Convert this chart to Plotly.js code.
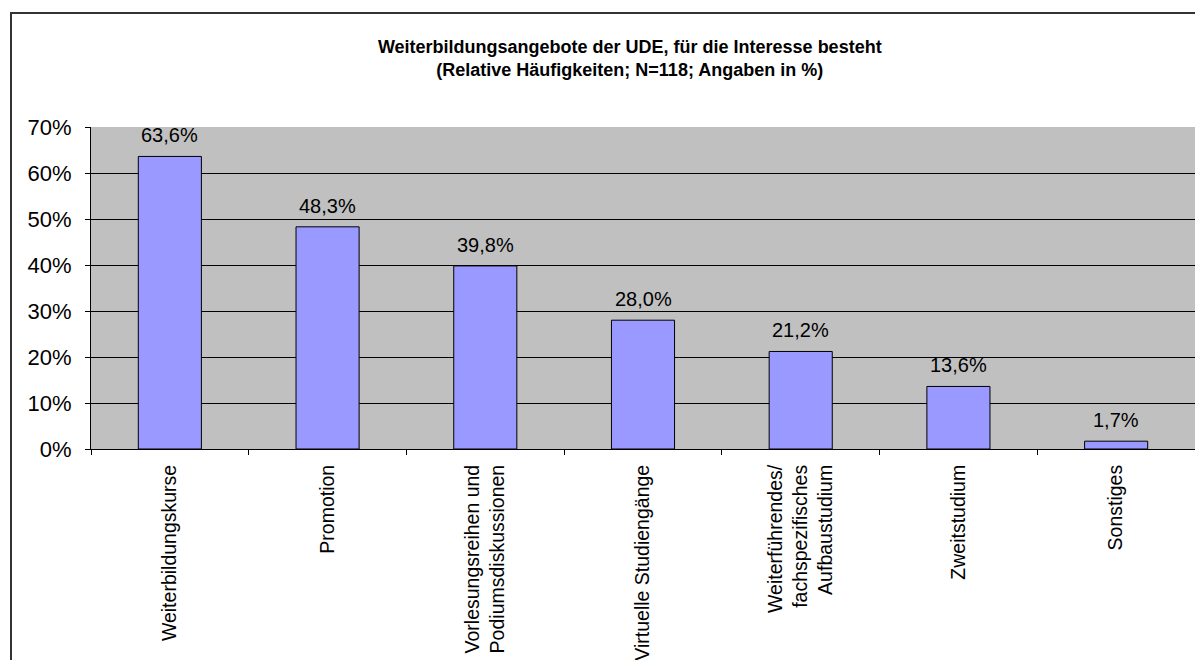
<!DOCTYPE html>
<html>
<head>
<meta charset="utf-8">
<script src="https://cdn.plot.ly/plotly-3.0.1.min.js"></script>
<style>
	html, body { margin: 0; background: #fff; overflow: hidden; }
	#chart { position: absolute; left: 0; top: 0; width: 1195px; height: 660px; }
	#frame { position: absolute; left: 10px; top: 12px; width: 1185px; height: 648px;
		border-top: 2px solid #333; border-left: 2px solid #333; pointer-events: none; box-sizing: border-box; }
</style>
</head>
<body>
<div id="chart"></div>
<div id="frame"></div>
<script>
"use strict";

// categories (x axis) and relative shares (N=118)
var categories = [
	"Weiterbildungskurse",
	"Promotion",
	"Vorlesungsreihen und<br>Podiumsdiskussionen",
	"Virtuelle Studiengänge",
	"Weiterführendes/<br>fachspezifisches<br>Aufbaustudium",
	"Zweitstudium",
	"Sonstiges"
];
var shares = [0.636, 0.483, 0.398, 0.280, 0.212, 0.136, 0.017];
var yTicks = [0, 0.1, 0.2, 0.3, 0.4, 0.5, 0.6, 0.7];

var font = "Arial, 'Liberation Sans', sans-serif";

function pct(v) {
	return (v * 100).toFixed(1).replace(".", ",") + "%";
} //pct

function draw() {
	var bars = {
		type: "bar",
		x: categories,
		y: shares,
		marker: { color: "#9999FF", line: { color: "#000", width: 1 } },
		hoverinfo: "skip"
	};

	// value labels above the bars
	var labels = categories.map(function (c, i) {
		return {
			x: c, y: shares[i], xref: "x", yref: "y",
			text: pct(shares[i]),
			showarrow: false,
			yanchor: "bottom",
			yshift: 8,
			font: { family: font, size: 20, color: "#000" }
		};
	});

	var layout = {
		width: 1195,
		height: 660,
		margin: { l: 91, r: 0, t: 127, b: 211 },
		paper_bgcolor: "#fff",
		plot_bgcolor: "#C0C0C0",
		separators: ",.",
		font: { family: font, color: "#000" },
		showlegend: false,
		bargap: 0.6,
		annotations: labels,
		title: {
			text: "<b>Weiterbildungsangebote der UDE, für die Interesse besteht<br>(Relative Häufigkeiten; N=118; Angaben in %)</b>",
			font: { family: font, size: 18, color: "#000" },
			xref: "container", x: 0.527,
			yref: "container", y: 0.92, yanchor: "middle"
		},
		xaxis: {
			type: "category",
			tickangle: -90,
			tickson: "boundaries",
			ticks: "outside",
			ticklen: 5,
			tickcolor: "#000",
			showline: true,
			linecolor: "#000",
			linewidth: 1,
			showgrid: false,
			ticklabelstandoff: 7,
			tickfont: { family: font, size: 19.5, color: "#000" }
		},
		yaxis: {
			range: [0, 0.7],
			tickvals: yTicks,
			tickformat: ".0%",
			ticks: "outside",
			ticklen: 5,
			tickcolor: "#000",
			showline: true,
			linecolor: "#000",
			linewidth: 1,
			showgrid: true,
			gridcolor: "#000",
			gridwidth: 1,
			zeroline: false,
			ticklabelstandoff: 9,
			tickfont: { family: font, size: 22, color: "#000" }
		}
	};

	return Plotly.newPlot("chart", [bars], layout, { staticPlot: true });
} //draw

window.addEventListener("DOMContentLoaded", draw);
</script>
</body>
</html>
